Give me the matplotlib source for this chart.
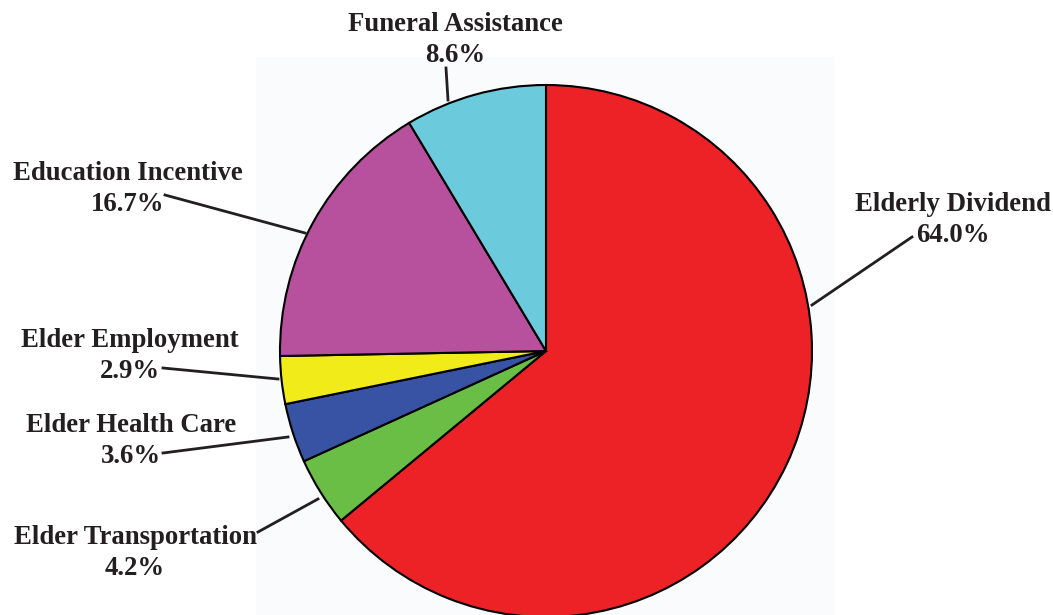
import matplotlib.pyplot as plt
from matplotlib.patches import Rectangle

# Program spending shares, clockwise from 12 o'clock
programs = ['Elderly Dividend', 'Elder Transportation', 'Elder Health Care',
            'Elder Employment', 'Education Incentive', 'Funeral Assistance']
shares = [64.0, 4.2, 3.6, 2.9, 16.7, 8.6]
colors = ['#ec2227', '#6abd45', '#3953a4', '#f2eb1a', '#b7519e', '#6bcadb']

# Label text placement (pixel-style coordinates, y measured from the top)
label_pos = [(953, 217), (135, 550), (131, 438), (130, 353), (128, 186), (455, 37)]
# leader line: start near the text, end on the pie rim
leaders = [((912, 237), (812, 305)),
           ((258, 532), (318, 499)),
           ((163, 453), (288, 437)),
           ((163, 368), (278, 379)),
           ((165, 195), (305, 233)),
           ((446, 68), (448, 100))]

W, H = 1053, 615
fig = plt.figure(figsize=(W / 100, H / 100), dpi=100)
ax = fig.add_axes([0, 0, 1, 1])

# faint panel behind the pie
ax.add_patch(Rectangle((256, 0), 577, H - 57, color='#fafbfd', zorder=0))

cx, cy, r = 546, H - 351, 266
ax.pie(shares, colors=colors, startangle=90, counterclock=False,
       center=(cx, cy), radius=r, frame=True,
       wedgeprops=dict(edgecolor='black', linewidth=1.5))
ax.set_xlim(0, W)
ax.set_ylim(0, H)
ax.set_aspect('equal')
ax.axis('off')

font = dict(family='Liberation Serif', weight='bold', size=19.3, color='#231f20')
for name, val, (x, y) in zip(programs, shares, label_pos):
    ax.text(x, H - y - 3, f'{name}\n{val:.1f}%', ha='center', va='center',
            linespacing=1.28, **font)

for (x0, y0), (x1, y1) in leaders:
    ax.plot([x0, x1], [H - y0, H - y1], color='#231f20', lw=2)

fig.savefig('out.png', dpi=100)
